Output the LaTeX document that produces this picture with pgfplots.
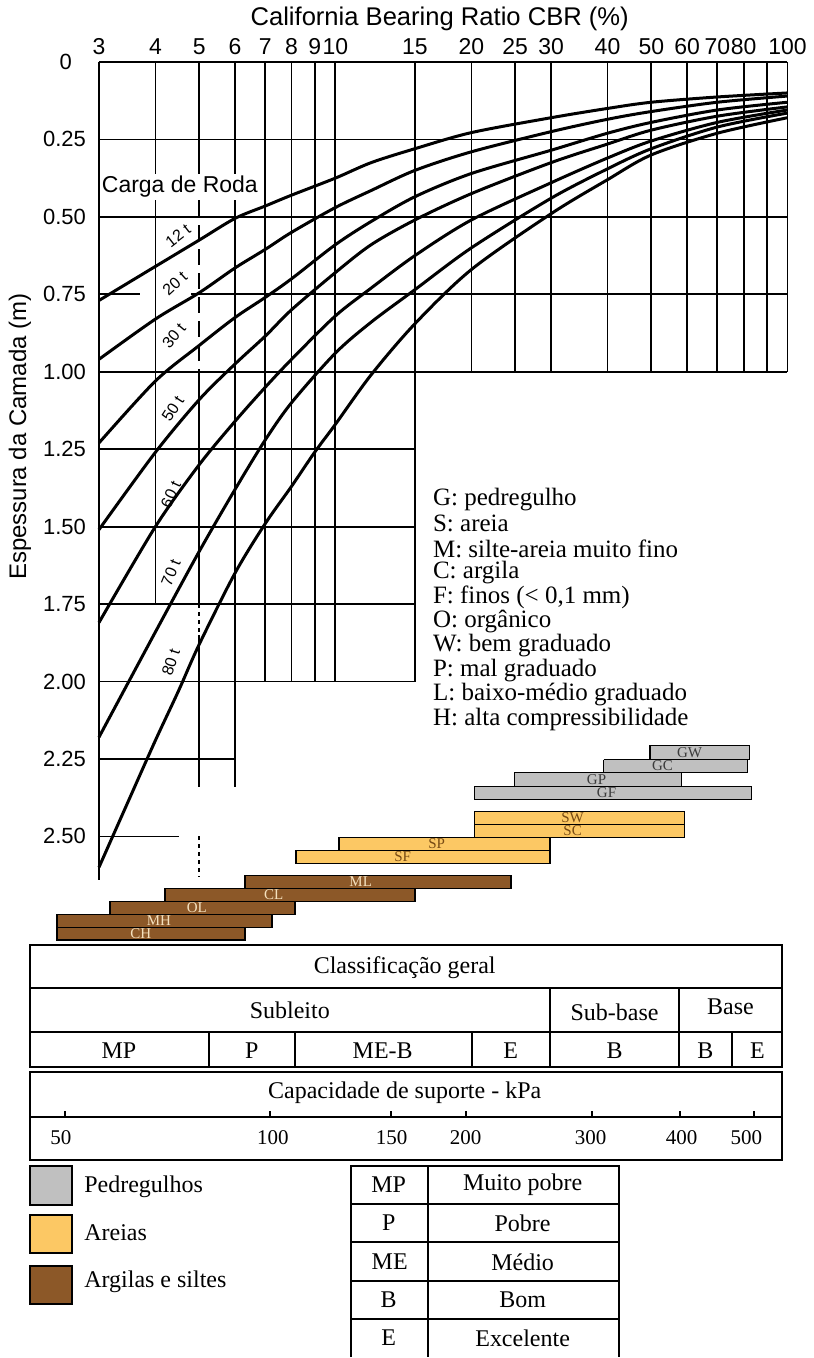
\documentclass[border=0pt]{standalone}
\usepackage{pgfplots}
\pgfplotsset{compat=1.18}
\usepackage{fontspec}
\setmainfont{Liberation Serif}
\setsansfont{Liberation Sans}
\definecolor{grav}{RGB}{192,192,192}
\definecolor{sand}{RGB}{252,200,100}
\definecolor{clay}{RGB}{140,88,40}
\definecolor{gravtxt}{RGB}{60,60,60}
\definecolor{sandtxt}{RGB}{120,75,20}
\definecolor{claytxt}{RGB}{245,225,190}
\newcommand{\fs}[1]{\fontsize{#1}{#1}\selectfont}
\begin{document}
\begin{tikzpicture}
\begin{scope}[x=0.5pt,y=-0.5pt]
\path[use as bounding box] (0,0) rectangle (804,1358);
\end{scope}
\begin{axis}[
  at={(49.5pt,-31pt)}, anchor=north west,
  scale only axis, width=344.5pt, height=409.2pt,
  xmode=log, xmin=3, xmax=100, ymin=0, ymax=2.64, y dir=reverse,
  clip=false,
  axis line style={draw=none}, tick style={draw=none},
  major tick length=0pt, minor tick length=0pt,
  xtick={3,4,5,6,7,8,9,10,15,20,25,30,40,50,60,70,80,100},
  xticklabels={3,4,5,6,7,8,9,10,15,20,25,30,40,50,60,70,80,100},
  xticklabel pos=upper,
  ytick={0,0.25,0.5,0.75,1,1.25,1.5,1.75,2,2.25,2.5},
  yticklabels={0\kern7pt,0.25,0.50,0.75,1.00,1.25,1.50,1.75,2.00,2.25,2.50},
  xticklabel style={font=\sffamily\fs{11.5}},
  yticklabel style={font=\sffamily\fs{11}, xshift=-3pt},
]
% ---- grid lines
\pgfplotsinvokeforeach{0,0.25,0.5,1}{\draw[line width=0.9pt] (axis cs:3,#1) -- (axis cs:100,#1);}
\draw[line width=0.9pt] (axis cs:3,0.75) -- (axis cs:3.7,0.75);
\draw[line width=0.9pt] (axis cs:4.8,0.75) -- (axis cs:100,0.75);
\pgfplotsinvokeforeach{1.25,1.5,1.75,2}{\draw[line width=0.9pt] (axis cs:3,#1) -- (axis cs:15,#1);}
\draw[line width=0.9pt] (axis cs:3,2.25) -- (axis cs:6,2.25);
\draw[line width=0.9pt] (axis cs:3,2.5) -- (axis cs:4.5,2.5);
\draw[line width=0.9pt] (axis cs:3,0) -- (axis cs:3,2.64);
\draw[line width=0.9pt] (axis cs:4,0) -- (axis cs:4,1.75);
\draw[line width=0.9pt] (axis cs:5,0) -- (axis cs:5,0.45);
\draw[line width=0.9pt, dash pattern=on 8pt off 4pt] (axis cs:5,0.45) -- (axis cs:5,1.0);
\draw[line width=0.9pt] (axis cs:5,1.0) -- (axis cs:5,1.75);
\draw[line width=0.9pt, dash pattern=on 2pt off 2pt] (axis cs:5,1.75) -- (axis cs:5,1.85);
\draw[line width=0.9pt] (axis cs:5,1.85) -- (axis cs:5,2.34);
\draw[line width=0.9pt, dash pattern=on 2pt off 2pt] (axis cs:5,2.5) -- (axis cs:5,2.63);
\draw[line width=0.9pt] (axis cs:6,0) -- (axis cs:6,2.34);
\pgfplotsinvokeforeach{7,8,9,10,15}{\draw[line width=0.9pt] (axis cs:#1,0) -- (axis cs:#1,2);}
\pgfplotsinvokeforeach{20,25,30,40,50,60,70,80,90,100}{\draw[line width=0.9pt] (axis cs:#1,0) -- (axis cs:#1,1);}
% ---- curves (wheel load)
\addplot[black, line width=1.5pt, smooth] coordinates {(3,0.77) (4,0.66) (5,0.575) (6,0.505) (7,0.465) (8,0.43) (10,0.375) (12,0.325) (15,0.28) (20,0.228) (30,0.18) (40,0.15) (50,0.13) (70,0.113) (100,0.10)};
\addplot[black, line width=1.5pt, smooth] coordinates {(3,0.96) (4,0.83) (5,0.745) (6,0.665) (7,0.605) (8,0.55) (10,0.47) (12,0.415) (15,0.35) (20,0.29) (30,0.225) (40,0.185) (50,0.16) (70,0.13) (100,0.11)};
\addplot[black, line width=1.5pt, smooth] coordinates {(3,1.23) (4,1.03) (5,0.915) (6,0.825) (7,0.76) (8,0.70) (10,0.59) (12,0.515) (15,0.435) (20,0.36) (30,0.285) (40,0.23) (50,0.195) (70,0.155) (100,0.13)};
\addplot[black, line width=1.5pt, smooth] coordinates {(3,1.51) (4,1.26) (5,1.09) (6,0.975) (7,0.885) (8,0.80) (10,0.68) (12,0.59) (15,0.51) (20,0.425) (30,0.325) (40,0.265) (50,0.22) (70,0.175) (100,0.145)};
\addplot[black, line width=1.5pt, smooth] coordinates {(3,1.81) (4,1.50) (5,1.30) (6,1.16) (7,1.05) (8,0.96) (10,0.82) (12,0.73) (15,0.625) (20,0.51) (30,0.39) (40,0.31) (50,0.255) (70,0.195) (100,0.155)};
\addplot[black, line width=1.5pt, smooth] coordinates {(3,2.18) (4,1.84) (5,1.58) (6,1.38) (7,1.22) (8,1.10) (10,0.94) (12,0.84) (15,0.735) (20,0.60) (30,0.44) (40,0.345) (50,0.28) (70,0.21) (100,0.165)};
\addplot[black, line width=1.5pt, smooth] coordinates {(3,2.60) (3.5,2.38) (4,2.19) (4.5,2.03) (5,1.88) (6,1.65) (7,1.49) (8,1.37) (9,1.26) (10,1.17) (12,1.01) (15,0.845) (20,0.67) (30,0.49) (40,0.38) (50,0.30) (70,0.23) (100,0.18)};
% ---- soil bars (CBR ranges)
\addplot[draw=black, fill=grav, line width=0.8pt] coordinates {(49.6,2.206) (82.4,2.206) (82.4,2.252) (49.6,2.252) (49.6,2.206)};
\addplot[draw=black, fill=grav, line width=0.8pt] coordinates {(39.2,2.252) (81.6,2.252) (81.6,2.294) (39.2,2.294) (39.2,2.252)};
\addplot[draw=black, fill=grav, line width=0.8pt] coordinates {(24.9,2.294) (58.3,2.294) (58.3,2.339) (24.9,2.339) (24.9,2.294)};
\addplot[draw=black, fill=grav, line width=0.8pt] coordinates {(20.3,2.339) (83.3,2.339) (83.3,2.381) (20.3,2.381) (20.3,2.339)};
\addplot[draw=black, fill=sand, line width=0.8pt] coordinates {(20.3,2.419) (59.2,2.419) (59.2,2.461) (20.3,2.461) (20.3,2.419)};
\addplot[draw=black, fill=sand, line width=0.8pt] coordinates {(20.3,2.461) (59.2,2.461) (59.2,2.503) (20.3,2.503) (20.3,2.461)};
\addplot[draw=black, fill=sand, line width=0.8pt] coordinates {(10.2,2.503) (29.8,2.503) (29.8,2.545) (10.2,2.545) (10.2,2.503)};
\addplot[draw=black, fill=sand, line width=0.8pt] coordinates {(8.18,2.545) (29.8,2.545) (29.8,2.587) (8.18,2.587) (8.18,2.545)};
\addplot[draw=black, fill=clay, line width=0.8pt] coordinates {(6.31,2.626) (24.5,2.626) (24.5,2.668) (6.31,2.668) (6.31,2.626)};
\addplot[draw=black, fill=clay, line width=0.8pt] coordinates {(4.20,2.668) (15.0,2.668) (15.0,2.710) (4.20,2.710) (4.20,2.668)};
\addplot[draw=black, fill=clay, line width=0.8pt] coordinates {(3.17,2.710) (8.14,2.710) (8.14,2.752) (3.17,2.752) (3.17,2.710)};
\addplot[draw=black, fill=clay, line width=0.8pt] coordinates {(2.42,2.752) (7.24,2.752) (7.24,2.794) (2.42,2.794) (2.42,2.752)};
\addplot[draw=black, fill=clay, line width=0.8pt] coordinates {(2.42,2.794) (6.31,2.794) (6.31,2.835) (2.42,2.835) (2.42,2.794)};
\end{axis}
\begin{scope}[x=0.5pt,y=-0.5pt]
% titles
\node[font=\sffamily\fs{12.8}] at (440,19) {California Bearing Ratio CBR (\%)};
\node[font=\sffamily\fs{12}, rotate=90] at (20,437) {Espessura da Camada (m)};
\node[font=\sffamily\fs{11.5}, fill=white, inner sep=1pt] at (180,187) {Carga de Roda};
% curve labels
\begin{scope}[every node/.style={font=\sffamily\fs{8}, inner sep=0pt}]
\node[rotate=38] at (178,236) {12 t};
\node[rotate=42] at (175,284) {20 t};
\node[rotate=50] at (174,336) {30 t};
\node[rotate=57] at (173,409) {50 t};
\node[rotate=65] at (171,495) {60 t};
\node[rotate=68] at (171,573) {70 t};
\node[rotate=72] at (171,663) {80 t};
\end{scope}
% legend of letters
\begin{scope}[every node/.style={anchor=west, font=\fs{12.5}, inner sep=0pt}]
\node at (433,500) {G: pedregulho};
\node at (433,524) {S: areia};
\node at (433,549) {M: silte-areia muito fino};
\node at (433,573) {C: argila};
\node at (433,598) {F: finos (< 0,1 mm)};
\node at (433,622) {O: orgânico};
\node at (433,646) {W: bem graduado};
\node at (433,671) {P: mal graduado};
\node at (433,695) {L: baixo-médio graduado};
\node at (433,720) {H: alta compressibilidade};
\end{scope}
% bar labels
\begin{scope}[every node/.style={font=\fs{7.5}, inner sep=0pt}]
\node[text=gravtxt] at (690,753) {GW};
\node[text=gravtxt] at (663,766) {GC};
\node[text=gravtxt] at (597,780) {GP};
\node[text=gravtxt] at (607,793) {GF};
\node[text=sandtxt] at (573,818) {SW};
\node[text=sandtxt] at (573,831) {SC};
\node[text=sandtxt] at (437,844) {SP};
\node[text=sandtxt] at (403,857) {SF};
\node[text=claytxt] at (361,882) {ML};
\node[text=claytxt] at (274,895) {CL};
\node[text=claytxt] at (197,908) {OL};
\node[text=claytxt] at (159,921) {MH};
\node[text=claytxt] at (141,934) {CH};
\end{scope}
% classification table
\begin{scope}[line width=1pt]
\draw (30,946) rectangle (783,1068);
\draw (30,989) -- (783,989);
\draw (30,1033) -- (783,1033);
\draw (550,989) -- (550,1068);
\draw (679,989) -- (679,1068);
\draw (209,1033) -- (209,1068);
\draw (295,1033) -- (295,1068);
\draw (472,1033) -- (472,1068);
\draw (733,1033) -- (733,1068);
\end{scope}
\begin{scope}[every node/.style={font=\fs{12}}]
\node at (405,968) {Classificação geral};
\node at (290,1011) {Subleito};
\node at (615,1013) {Sub-base};
\node at (731,1007) {Base};
\node at (119,1051) {MP};
\node at (252,1051) {P};
\node at (383,1051) {ME-B};
\node at (511,1051) {E};
\node at (615,1051) {B};
\node at (706,1051) {B};
\node at (758,1051) {E};
\end{scope}
% capacity scale
\begin{scope}[line width=1pt]
\draw (30,1073) rectangle (783,1161);
\draw (30,1118) -- (783,1118);
\foreach \xx in {65,270,391,466,592,680,755} {\draw (\xx,1112) -- (\xx,1118);}
\end{scope}
\node[font=\fs{12}] at (405,1094) {Capacidade de suporte - kPa};
\begin{scope}[every node/.style={font=\fs{10.5}}]
\node at (61,1138) {50};
\node at (273,1138) {100};
\node at (392,1138) {150};
\node at (466,1138) {200};
\node at (591,1138) {300};
\node at (682,1138) {400};
\node at (747,1138) {500};
\end{scope}
% colour legend
\draw[line width=1pt, fill=grav] (30,1167) rectangle (72,1206);
\draw[line width=1pt, fill=sand] (30,1216) rectangle (72,1254);
\draw[line width=1pt, fill=clay] (30,1267) rectangle (72,1305);
\begin{scope}[every node/.style={anchor=west, font=\fs{12}, inner sep=0pt}]
\node at (84,1188) {Pedregulhos};
\node at (84,1234) {Areias};
\node at (84,1283) {Argilas e siltes};
\end{scope}
% abbreviation table
\begin{scope}[line width=1pt]
\draw (351,1358) -- (351,1167) -- (619,1167) -- (619,1358);
\draw (428,1167) -- (428,1358);
\foreach \yy in {1205,1243,1282,1320} {\draw (351,\yy) -- (619,\yy);}
\end{scope}
\begin{scope}[every node/.style={font=\fs{12}}]
\node at (389,1186) {MP}; \node at (523,1186) {Muito pobre};
\node at (389,1224) {P}; \node at (523,1224) {Pobre};
\node at (390,1263) {ME}; \node at (523,1263) {Médio};
\node at (389,1301) {B}; \node at (523,1301) {Bom};
\node at (389,1339) {E}; \node at (523,1339) {Excelente};
\end{scope}
\end{scope}
\end{tikzpicture}
\end{document}
